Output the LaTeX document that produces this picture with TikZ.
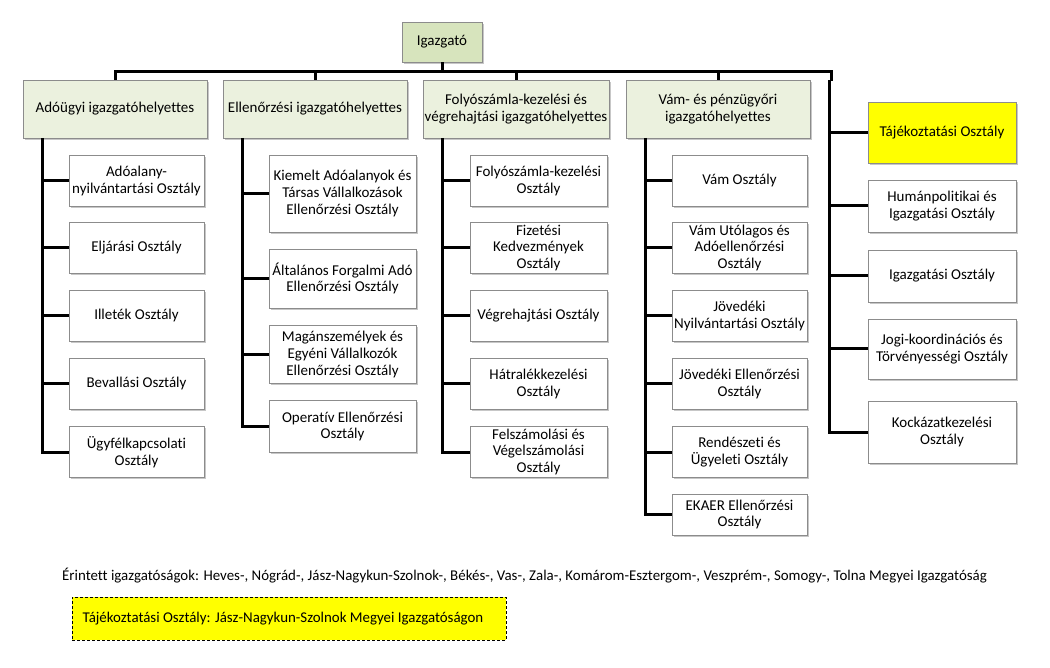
\documentclass[tikz,border=0pt]{standalone}
\usepackage{fontspec}
\setmainfont{Carlito}[Ligatures=NoCommon]
\usetikzlibrary{shadows}
\definecolor{dirfill}{HTML}{D7E4BD}
\definecolor{depfill}{HTML}{EBF1DE}
\definecolor{boxline}{HTML}{8C8C8C}
\definecolor{yel}{HTML}{FFFF00}
\begin{document}
\begin{tikzpicture}[x=1pt,y=-1pt,
  box/.style={draw=boxline, line width=0.9pt, fill=white, align=center,
    font=\fontsize{15}{16.6}\selectfont, inner sep=1pt,
    drop shadow={shadow xshift=1.6pt, shadow yshift=-1.6pt, fill=black, opacity=0.22}},
  dirbox/.style={box, fill=dirfill},
  depbox/.style={box, fill=depfill, minimum height=58pt},
  colA/.style={box, minimum width=135pt},
  colB/.style={box, minimum width=147pt},
  colC/.style={box, minimum width=137pt},
  colD/.style={box, minimum width=135pt},
  colE/.style={box, minimum width=148pt},
  conn/.style={line width=3pt, line join=miter}]
\useasboundingbox (0,0) rectangle (1050,668);
\fill[white] (0,0) rectangle (1050,668);

% director
\node[dirbox, minimum width=80pt, minimum height=40pt] (dir) at (442,42) {Igazgató};

% deputies
\node[depbox, minimum width=184pt] (dA) at (115,109) {Adóügyi igazgatóhelyettes};
\node[depbox, minimum width=184pt] (dB) at (315,109) {Ellenőrzési igazgatóhelyettes};
\node[depbox, minimum width=186pt] (dC) at (516,109) {Folyószámla-kezelési és\\végrehajtási igazgatóhelyettes};
\node[depbox, minimum width=184pt] (dD) at (718,109) {Vám- és pénzügyőri\\igazgatóhelyettes};

% column A
\node[colA, minimum height=51pt] (a1) at (136.5,181) {Adóalany-\\nyilvántartási Osztály};
\node[colA, minimum height=51pt] (a2) at (136.5,248) {Eljárási Osztály};
\node[colA, minimum height=51pt] (a3) at (136.5,316) {Illeték Osztály};
\node[colA, minimum height=51pt] (a4) at (136.5,384) {Bevallási Osztály};
\node[colA, minimum height=51pt] (a5) at (136.5,452) {Ügyfélkapcsolati\\Osztály};

% column B
\node[colB, minimum height=77pt] (b1) at (342.5,193.5) {Kiemelt Adóalanyok és\\Társas Vállalkozások\\Ellenőrzési Osztály};
\node[colB, minimum height=59pt] (b2) at (342.5,278.5) {Általános Forgalmi Adó\\Ellenőrzési Osztály};
\node[colB, minimum height=58pt] (b3) at (342.5,354.5) {Magánszemélyek és\\Egyéni Vállalkozók\\Ellenőrzési Osztály};
\node[colB, minimum height=52pt] (b4) at (342.5,426.5) {Operatív Ellenőrzési\\Osztály};

% column C
\node[colC, minimum height=51pt] (c1) at (538.5,181) {Folyószámla-kezelési\\Osztály};
\node[colC, minimum height=51pt] (c2) at (538.5,248) {Fizetési\\Kedvezmények\\Osztály};
\node[colC, minimum height=51pt] (c3) at (538.5,316) {Végrehajtási Osztály};
\node[colC, minimum height=51pt] (c4) at (538.5,384) {Hátralékkezelési\\Osztály};
\node[colC, minimum height=51pt] (c5) at (538.5,452) {Felszámolási és\\Végelszámolási\\Osztály};

% column D
\node[colD, minimum height=51pt] (d1) at (739.5,181) {Vám Osztály};
\node[colD, minimum height=51pt] (d2) at (739.5,248) {Vám Utólagos és\\Adóellenőrzési\\Osztály};
\node[colD, minimum height=51pt] (d3) at (739.5,316) {Jövedéki\\Nyilvántartási Osztály};
\node[colD, minimum height=51pt] (d4) at (739.5,384) {Jövedéki Ellenőrzési\\Osztály};
\node[colD, minimum height=51pt] (d5) at (739.5,452) {Rendészeti és\\Ügyeleti Osztály};
\node[colD, minimum height=41pt] (d6) at (739.5,514.5) {EKAER Ellenőrzési\\Osztály};

% column E
\node[colE, minimum height=61pt, fill=yel] (e1) at (942,132.5) {Tájékoztatási Osztály};
\node[colE, minimum height=52pt] (e2) at (942,206) {Humánpolitikai és\\Igazgatási Osztály};
\node[colE, minimum height=52pt] (e3) at (942,276) {Igazgatási Osztály};
\node[colE, minimum height=60pt] (e4) at (942,349) {Jogi-koordinációs és\\Törvényességi Osztály};
\node[colE, minimum height=62pt] (e5) at (942,432) {Kockázatkezelési\\Osztály};

% bus
\coordinate (busL) at (115,72);
\coordinate (busR) at (831,72);
\coordinate (busJ) at (831,81);
\coordinate (tE) at (829,80);
\draw[conn] (dir.south) -- (dir.south |- busL);
\draw[conn] (busL |- dA.north) -- (busL) -- (busR) -- (busJ);
\draw[conn] (dB.north |- busL) -- (dB.north);
\draw[conn] (dC.north |- busL) -- (dC.north);
\draw[conn] (dD.north |- busL) -- (dD.north);

% trunks
\coordinate (tA) at (42,138);
\coordinate (tB) at (242,138);
\coordinate (tC) at (442,138);
\coordinate (tD) at (645,138);
\draw[conn] (tA) |- (a5.west);
\foreach \n in {a1,a2,a3,a4} \draw[conn] (\n.west -| tA) -- (\n.west);
\draw[conn] (tB) |- (b4.west);
\foreach \n in {b1,b2,b3} \draw[conn] (\n.west -| tB) -- (\n.west);
\draw[conn] (tC) |- (c5.west);
\foreach \n in {c1,c2,c3,c4} \draw[conn] (\n.west -| tC) -- (\n.west);
\draw[conn] (tD) |- (d6.west);
\foreach \n in {d1,d2,d3,d4,d5} \draw[conn] (\n.west -| tD) -- (\n.west);
\draw[conn] (tE) |- (e5.west);
\foreach \n in {e1,e2,e3,e4} \draw[conn] (\n.west -| tE) -- (\n.west);

% notes
\node[font=\fontsize{14.9}{16}\selectfont, inner sep=0pt] (note) at (524.5,576)
  {Érintett igazgatóságok: Heves-, Nógrád-, Jász-Nagykun-Szolnok-, Békés-, Vas-, Zala-, Komárom-Esztergom-, Veszprém-, Somogy-, Tolna Megyei Igazgatóság};
\node[draw=black, line width=1pt, dash pattern=on 3pt off 2pt, fill=yel,
  minimum width=434pt, minimum height=43pt, inner sep=0pt,
  font=\fontsize{14.9}{16}\selectfont] (tnote) at (289,618.5)
  {\hspace*{-12pt}Tájékoztatási Osztály: Jász-Nagykun-Szolnok Megyei Igazgatóságon};
\end{tikzpicture}
\end{document}
